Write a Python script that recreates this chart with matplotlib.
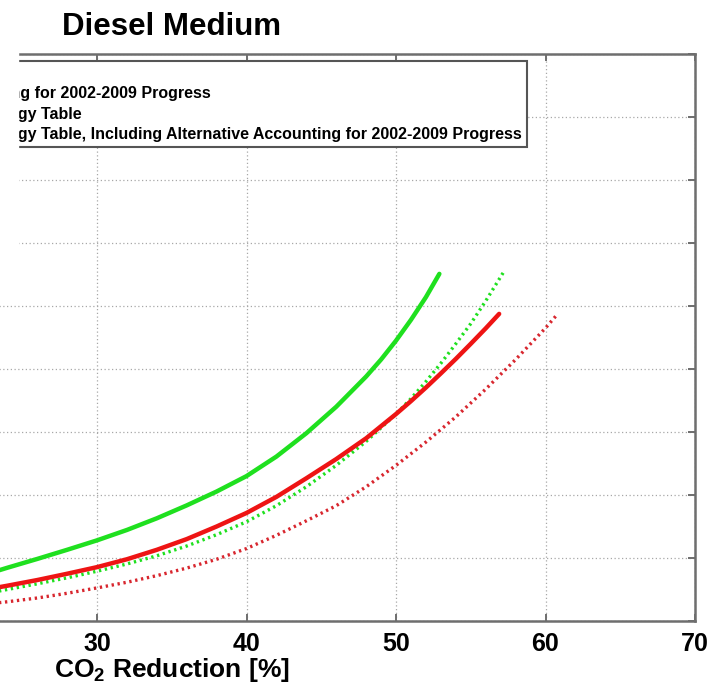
import matplotlib
matplotlib.use("Agg")  # non-interactive backend
import matplotlib.pyplot as plt
from matplotlib.patches import Rectangle

plt.rcParams["font.family"] = ["Liberation Sans", "DejaVu Sans"]
plt.rcParams["font.weight"] = "bold"
plt.rcParams["mathtext.default"] = "regular"

# CO2 reduction [%] vs. cost, one pair of arrays per curve
ricardo_x = [22, 24, 26, 28, 30, 32, 34, 36, 38, 40, 42, 44, 46, 48, 49, 50, 51, 52, 52.9]
ricardo_y = [700, 845, 985, 1130, 1280, 1445, 1630, 1835, 2055, 2300, 2610, 2980, 3400,
             3880, 4150, 4450, 4780, 5140, 5510]

ricardo_alt_x = [22, 24, 26, 28, 30, 32, 34, 36, 38, 40, 42, 44, 46, 48, 50, 51, 52, 53,
                 54, 55, 56, 57.2]
ricardo_alt_y = [410, 500, 590, 685, 790, 905, 1035, 1190, 1370, 1575, 1830, 2130, 2470,
                 2850, 3285, 3530, 3800, 4090, 4400, 4720, 5080, 5540]

table_x = [22, 24, 26, 28, 30, 32, 34, 36, 38, 40, 42, 44, 46, 48, 50, 51, 52, 53, 54,
           55, 56, 56.9]
table_y = [475, 560, 650, 750, 855, 980, 1130, 1300, 1500, 1715, 1970, 2265, 2570, 2900,
           3285, 3490, 3705, 3930, 4160, 4400, 4645, 4875]

table_alt_x = [22, 24, 26, 28, 30, 32, 34, 36, 38, 40, 42, 44, 46, 48, 50, 52, 54, 56,
               58, 60, 60.8]
table_alt_y = [255, 305, 365, 440, 525, 615, 720, 840, 980, 1150, 1360, 1590, 1830, 2130,
               2470, 2840, 3240, 3680, 4150, 4650, 4870]

labels = [
    "Ricardo Model",
    "Ricardo Model, Accounting for 2002-2009 Progress",
    "Ricardo Model - Technology Table",
    "Ricardo Model - Technology Table, Including Alternative Accounting for 2002-2009 Progress",
]

x_ticks = [0, 10, 20, 30, 40, 50, 60, 70]
y_ticks = [0, 1000, 2000, 3000, 4000, 5000, 6000, 7000, 8000, 9000]

GREEN = "#1fe01f"
RED = "#ee1414"
DOTS = (0, (0.7, 1.1))

fig = plt.figure(figsize=(7.2, 6.86), dpi=100)
ax = fig.add_axes([-351.5 / 720, 65 / 686, 1046.5 / 720, 567 / 686])

ax.plot(ricardo_x, ricardo_y, color=GREEN, lw=3.2, solid_capstyle="round",
        solid_joinstyle="round", label=labels[0])
ax.plot(ricardo_alt_x, ricardo_alt_y, color=GREEN, lw=2.4, linestyle=DOTS, label=labels[1])
ax.plot(table_x, table_y, color=RED, lw=3.2, solid_capstyle="round",
        solid_joinstyle="round", label=labels[2])
ax.plot(table_alt_x, table_alt_y, color="#d8262e", lw=2.4, linestyle=DOTS, label=labels[3])

ax.set_xlim(0, 70)
ax.set_ylim(0, 9000)
ax.set_xticks(x_ticks)
ax.set_yticks(y_ticks)
ax.grid(True, color="#a8a8a8", linestyle=(0, (1, 2)), linewidth=0.9)
ax.set_axisbelow(True)

for side in ["top", "right", "bottom", "left"]:
    ax.spines[side].set_color("#6e6e6e")
    ax.spines[side].set_linewidth(1.8)
ax.tick_params(direction="in", length=5, width=1.4, color="#6e6e6e",
               top=True, right=True, labelsize=18, pad=8)
for lbl in ax.get_xticklabels() + ax.get_yticklabels():
    lbl.set_fontweight("bold")

ax.set_xlabel("CO$_2$ Reduction [%]", fontsize=19, fontweight="bold", labelpad=0)
ax.set_title("Diesel Medium", fontsize=22.5, fontweight="bold", pad=14)

leg = ax.legend(loc="upper right", bbox_to_anchor=(527 / 720, 1 - 61 / 686),
                bbox_transform=fig.transFigure, borderaxespad=0, fancybox=False,
                framealpha=1, edgecolor="#555555", prop={"size": 11.5, "weight": "bold"},
                labelspacing=0.34, borderpad=0.3, handlelength=2.5)
leg.get_frame().set_linewidth(1.5)

# blank strip over the left end of the legend
fig.add_artist(Rectangle((0, 1 - 275 / 686), 18 / 720, 275 / 686,
                         transform=fig.transFigure, color="white", zorder=10))

fig.savefig("out.png", dpi=100)
plt.close(fig)
